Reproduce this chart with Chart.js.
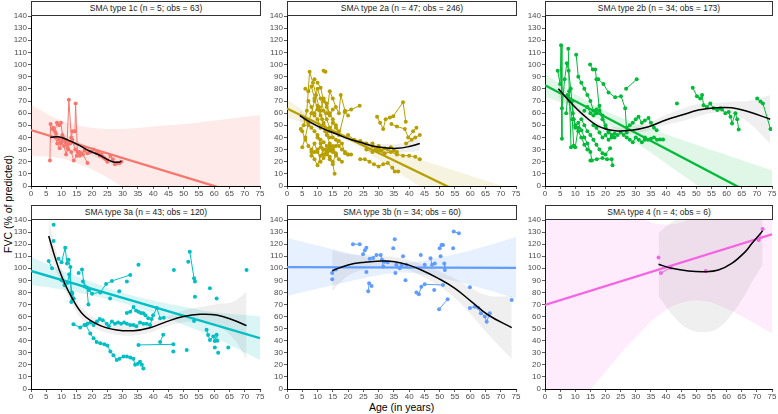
<!DOCTYPE html>
<html>
<head>
<meta charset="utf-8">
<script src="https://cdn.jsdelivr.net/npm/chart.js@4.4.0/dist/chart.umd.min.js"></script>
<style>
  body { margin: 0; background: #fff; width: 778px; height: 414px; position: relative; overflow: hidden;
         font-family: "Liberation Sans", Arial, sans-serif; }
  canvas { position: absolute; }
  .strip { position: absolute; box-sizing: border-box; border: 1px solid #333; background: #fff;
           font-size: 8.5px; line-height: 12px; text-align: center; color: #1a1a1a; white-space: nowrap; }
  .title { position: absolute; font-size: 10.5px; color: #000; white-space: nowrap; }
</style>
</head>
<body>
<div class="title" style="left:-50px;top:198px;width:116px;text-align:center;transform:rotate(-90deg);">FVC (% of predicted)</div>
<div class="title" style="left:369px;top:401px;">Age (in years)</div>
<script>
const bandAges = [0, 10, 20, 30, 40, 50, 60, 75];

// ---- SMA type 1c
const type1cPatients = [
  [[6.2,21],[6.4,51],[7.3,48],[8.2,43],[9,38],[9.8,35],[10.5,40],[11.3,36],[12.2,30],[13.2,28],[14,21],[15,25],[15.8,28],[17,26],[18.5,19]],
  [[7,47],[7.8,45],[8.5,52],[9.2,50],[9.8,52],[10.3,42],[11,38],[11.8,34],[12.4,71],[13.2,40],[13.6,45],[14.4,45],[14.6,68],[15.2,28],[16,25]],
  [[8,40],[8.6,35],[9.4,31],[10,36],[10.8,33],[11.5,26],[12,31],[12.8,35],[13.5,38],[14.5,30]],
  [[15.5,28],[16.5,27],[17.5,29],[18.5,27],[19.5,28],[20.5,30],[21.5,27],[22.5,25],[23.5,24],[24.5,22]],
  [[22,28],[23,26],[24,23],[25,20],[26,25],[26.8,22],[27.5,18],[28.2,19],[29,19],[29.6,20]]
];
const type1cLine = [46, -11.5];
const type1cUpper = [67, 54, 48, 47, 49, 51, 54, 58.5];
const type1cLower = [25, 22.6, 13.5, -1, -18, -36, -54, -81];
const type1cSmoothAges = [6.3, 9, 12, 15.7, 19, 22.3, 24.5, 26.7, 28.8, 29.6];
const type1cSmooth = [40, 40.5, 38, 33.7, 29, 25.5, 22.5, 20, 19.5, 20.5];
const type1cSmoothSe = [5, 3, 3, 3, 3, 3, 3, 3, 3.5, 4];

// ---- SMA type 2a
const type2aPatients = [
  [[4.5,47],[5.5,50],[6.5,62],[7.4,94],[8.5,85],[9.5,75],[10.5,65],[11.5,55],[12.5,45]],
  [[5,32],[6,40],[7,52],[8,60],[9,70],[10,80],[11,72],[12,62],[13,55],[14,48],[15,40]],
  [[6,80],[7,78],[8,82],[9,72],[10,63],[11,58],[12,50],[13,42],[14,35]],
  [[8,28],[9,22],[10,17],[11,25],[12,30],[13,28],[14,24],[15,20],[16,25]],
  [[9,88],[10,85],[11,81],[12,70],[13,65],[14,60],[15,55],[16,50],[17,45]],
  [[12,95],[12.6,94]],
  [[10,40],[11,35],[12,30],[13,27],[14,22],[15,18],[15.6,10]],
  [[13,60],[14,78],[15,72],[16,65],[17,60],[17.6,75],[19,62],[20,58]],
  [[14,45],[15,52],[16,48],[17,42],[18.9,61],[21,63],[23.8,66]],
  [[5,45],[6,38],[7,33],[8,30],[9,35],[10,28],[11,32],[12,26],[13,30],[14,33]],
  [[7,70],[8,65],[9,58],[10,55],[11,48],[12,52],[13,45],[14,40]],
  [[16,38],[17,33],[18,30],[19,28],[20,26],[21,26]],
  [[20,42],[22,38],[24,37],[26,35],[28,33],[30,32]],
  [[24,22],[25.5,22],[27,20],[28.5,18],[30,16],[31.5,18],[33,19],[34.5,15],[35.3,12],[36.4,12]],
  [[26,30],[28,28],[30,29],[32,27],[34,28],[36,26],[38,25],[40,25],[42,24],[43.5,22]],
  [[29.5,57],[30.5,52],[31.5,47],[32.3,55],[33.7,56.5],[34.8,57.5],[38,69],[38.9,53]],
  [[34.2,51],[36,49],[38.6,47],[39.7,40],[41.3,45],[42.4,48]],
  [[39,35],[40.8,38],[42,40],[43.5,42]],
  [[28,35],[29,30],[30,33],[31,29],[32,31],[33,30],[34,32],[35,29],[36,28]],
  [[6,55],[7,50],[8,48],[9,45],[10,42],[11,38],[12,36],[13,33],[14,31],[15,28],[16,26]],
  [[8,25],[9,28],[10,30],[11,20],[12,23],[13,26],[14,29],[15,33],[16,27],[17,22],[18,20]],
  [[9,60],[10,66],[11,62],[12,72],[13,68],[14,58],[15,63]],
  [[15,30],[16,33],[17,37],[18,35],[19,27],[20,26]]
];
const type2aLine = [63.8, -27.7];
const type2aUpper = [71.1, 55.0, 41.6, 32.9, 24.7, 16.6, 8.5, -3.5];
const type2aLower = [56.5, 48.2, 37.2, 21.5, 5.3, -11, -27.3, -51.9];
const type2aSmoothAges = [4.2, 8, 12, 16, 20, 24, 28, 32, 36, 40, 43.5];
const type2aSmooth = [58, 52, 47, 43, 39, 36, 33, 31.5, 31, 32.5, 35];
const type2aSmoothSe = [5, 3, 2.5, 2, 2, 2, 2.5, 3, 3.5, 4.5, 6];

// ---- SMA type 2b
const type2bPatients = [
  [[4.2,95],[5,84],[5.3,116],[5.6,39]],
  [[5.6,64],[6.5,88],[7.2,101],[7.8,95],[8.5,80],[9.2,60],[10,50],[11,45],[12,40],[13,34],[14,30]],
  [[7.7,113],[8,78],[8.6,32],[9.4,33]],
  [[10.3,108],[11,90],[12,85],[13,80],[14,75],[15,70],[16,62],[17,60]],
  [[9,70],[9.5,55],[10,48],[11,52],[12,46],[13,40],[14,35],[15,28],[15.5,21]],
  [[14.9,100],[15.8,96],[16.6,96],[17,88],[18,62],[19,58],[20,50],[21,45]],
  [[17.6,88],[19.3,84],[21,77],[23.2,73],[25.1,74],[26.5,64],[27,44]],
  [[15,21],[17.1,22],[19,23],[20.5,22],[22,22],[22.3,17]],
  [[26.8,80],[30.3,88]],
  [[12,55],[13,50],[14,45],[15,42],[16,38],[17,34],[18,30],[19,27],[20,26],[21.5,31]],
  [[13,62],[14,65],[15,60],[16,58],[17,63],[18,66],[19,55],[20,48],[21,44],[22,42],[23,40]],
  [[25,44],[26,42],[27,40],[28,38],[29,36],[30,40],[31,38],[32,36],[33,38]],
  [[27,48],[28,50],[29,52],[30,55],[30.9,57],[32,52],[33,54],[34.2,56],[35,52],[36,48],[36.9,46]],
  [[33,40],[34,38],[35,39],[36,40],[37,38],[38,38.3],[39,38.3]],
  [[43.6,68]],
  [[48.8,81],[50.2,74],[51.3,72],[51.9,75],[52.4,66.5],[53.5,65],[54.6,68],[55.7,64],[56.9,62.5],[58.5,63]],
  [[58,64],[59.6,60],[60.7,61],[61.3,57],[61.8,51.5],[62.9,60],[63.5,55],[64,46.5]],
  [[70.1,72],[71.2,69.5],[72,68],[74.5,47]],
  [[7,60],[7.5,75],[8,70],[9,55],[9.5,33],[10,32],[11,48]],
  [[16,50],[17,48],[18,44],[19,40],[20,42],[21,38],[22,40],[23,43],[24,42]]
];
const type2bLine = [83, -15.3];
const type2bUpper = [92.5, 75.8, 61.9, 51.6, 42.6, 34.0, 25.5, 12.9];
const type2bLower = [73.5, 64.0, 51.7, 35.8, 18.6, 1.0, -16.7, -43.5];
const type2bSmoothAges = [4.4, 8, 12, 17.6, 23.2, 28.7, 34.2, 39.7, 45.2, 50.7, 56.2, 61.7, 67.3, 74.4];
const type2bSmooth = [80, 70, 60, 49.3, 45.5, 46, 48.8, 54.2, 58.4, 62.5, 64.4, 64.4, 61.1, 55];
const type2bSmoothSe = [7, 4, 3, 3, 3, 3, 3, 4, 5, 5, 4, 5, 9, 20];

// ---- SMA type 3a
const type3aPatients = [
  [[5.8,106],[6.9,100]],
  [[7.4,136]],
  [[7.4,122.6]],
  [[9,108],[10,105],[11.2,117],[11.8,104],[12.3,107],[12.9,101],[13.2,72],[13.5,79]],
  [[10,90],[11,86],[12,88],[12.5,95],[13.4,80],[14,75]],
  [[15.6,96]],
  [[16.7,99],[17.5,85],[18.3,84],[18.8,70]],
  [[17,89],[19,82],[20,79],[22.7,80],[24.6,87],[26.5,89.5],[32.5,94.5]],
  [[25.9,75]], [[28.9,81]], [[31.4,89]], [[35.2,103]],
  [[18,53],[19.4,46],[20.5,42],[21.5,39],[22.7,38],[24,37],[25,36],[26,31],[27,28],[28.1,24],[29,25],[30.3,27],[31.4,27],[32.5,26],[33.5,25],[34.1,20],[35,21],[35.7,22.6],[36.3,20],[36.8,17]],
  [[13.9,53.6],[16.1,51],[17.5,53],[18.5,54],[19.5,55],[20.5,53],[21.6,56],[22.5,58],[23.5,57],[24.8,54],[25.5,52],[26.5,56],[27.5,54],[28.5,55],[29.5,54],[30.5,55],[31.4,54],[32.5,53],[33.6,53],[34.5,52],[35.7,55],[36.8,54],[37.9,54],[39,53],[40,61],[41.2,67],[42.3,58.6],[43.5,59]],
  [[31.4,63],[32.5,64],[33.6,68],[34.4,65],[35.2,64],[36,63],[36.8,62.7],[37.5,61],[38.4,58.6],[39.5,58]],
  [[35.2,36.5],[46.6,37]],
  [[42.3,39],[43.3,45]],
  [[46.6,31]], [[46.8,98.6]], [[51,32.3]], [[51.5,105.5]],
  [[52,113.8],[53.4,91.7],[53.7,89]],
  [[53.7,76.5]], [[53.4,56.4]],
  [[57.5,49],[58,44.8],[58.6,40.6],[59.7,43.4],[60.2,39.8],[60.8,45],[61,40]],
  [[58.6,83.4]], [[60.8,75]], [[60.2,34.3]], [[61.3,30]], [[64.6,34.3]], [[70.6,98.6]]
];
const type3aLine = [97.8, 42.1];
const type3aUpper = [109.5, 98.4, 88.4, 79.7, 73.3, 68.2, 63.7, 60.1];
const type3aLower = [86.1, 82.4, 77.4, 71.3, 62.9, 53.2, 42.7, 24.1];
const type3aSmoothAges = [5.8, 8, 10.1, 12.9, 17.2, 22.7, 28.1, 33.6, 39, 44.4, 49.9, 55.3, 60.8, 66.2, 70.6];
const type3aSmooth = [126.8, 108, 93, 78, 61.3, 52.5, 48.9, 48.3, 50.8, 55.8, 60, 61.9, 61.3, 57.2, 52.5];
const type3aSmoothSe = [14, 9, 6, 5, 5, 4, 4, 4, 4, 4, 5, 6, 9, 15, 28];

// ---- SMA type 3b
const type3bPatients = [
  [[14.8,96],[16,99]], [[14.8,91]], [[21.6,120],[23.8,120]],
  [[24.9,111.6],[25.5,115],[26,117]], [[26,97]],
  [[26.6,81],[26.9,87.6],[27.7,85.4]],
  [[27.1,108],[28.2,108.5],[29.3,111],[30.7,111],[31.1,107],[31.5,101.4]],
  [[32,105.5],[33,105]], [[34.8,116.6]], [[35.3,124]], [[35.5,96]],
  [[35.8,103],[36.9,100],[37.5,102]], [[38,110]], [[38.8,90]], [[39.1,103]],
  [[42.4,80],[43.2,78.5],[44,84.8]], [[43.8,111]], [[45.1,86.7],[51.1,86.2]],
  [[45.1,103]], [[47,108.3],[47.5,103]], [[48.2,82]], [[48.4,104]],
  [[50,116.6],[50.6,119.3],[51.1,119.3]], [[50.3,110]], [[51.5,104],[51.7,98.6]],
  [[49.8,66],[52.6,74.3]], [[54.4,116.6]], [[54.6,130.4],[56.3,129]], [[59.9,84.3]],
  [[59.9,67],[61.5,68.2],[62.6,67.4],[63.5,62.7],[64.8,60],[65.4,55.8],[66.4,62.7]],
  [[73.6,73.8]]
];
const type3bLine = [101, 100.4];
const type3bUpper = [125, 118.8, 112.7, 107.1, 104.8, 109.1, 114.8, 126];
const type3bLower = [77, 83, 88.9, 94.3, 96.4, 92.1, 86.2, 75];
const type3bSmoothAges = [14.8, 20, 25.5, 30.9, 35.3, 39.7, 44, 49.5, 55, 60.4, 65.9, 73.6];
const type3bSmooth = [98, 102.8, 105, 106, 105.5, 102.8, 98.6, 91.7, 83.4, 72.4, 61.3, 50.8];
const type3bSmoothSe = [17, 9, 6, 4, 4, 4, 5, 6, 8, 11, 16, 26];

// ---- SMA type 4
const type4Patients = [
  [[37.5,109]], [[38.3,96],[41.5,100.5]], [[53.1,97.8]], [[70.6,123.5],[71.9,132.6]]
];
const type4Line = [69.6, 128.2];
const type4Upper = [186.6, 171, 155.9, 143, 136.1, 144, 166.5, 210];
const type4Lower = [-47, -16.2, 14.5, 43, 65.5, 73.4, 66.5, 46.2];
const type4SmoothAges = [37.5, 41.9, 47.4, 52.9, 57.3, 61.7, 66.2, 68.4, 71.9];
const type4Smooth = [103.3, 100, 97.8, 97.2, 98.6, 104, 113.8, 120.7, 131];
const type4SmoothSe = [26, 38, 48, 50, 48, 42, 35, 32, 28];

const panels = [
  { title: 'SMA type 1c (n = 5; obs = 63)', color: '#F8766D', band: 'rgba(248,118,109,0.15)',
    patients: type1cPatients, line: type1cLine, upper: type1cUpper, lower: type1cLower,
    sAges: type1cSmoothAges, s: type1cSmooth, se: type1cSmoothSe, left: 31, top: 16, w: 229, h: 170 },
  { title: 'SMA type 2a (n = 47; obs = 246)', color: '#B79F00', band: 'rgba(183,159,0,0.12)',
    patients: type2aPatients, line: type2aLine, upper: type2aUpper, lower: type2aLower,
    sAges: type2aSmoothAges, s: type2aSmooth, se: type2aSmoothSe, left: 287, top: 16, w: 229, h: 170 },
  { title: 'SMA type 2b (n = 34; obs = 173)', color: '#00BA38', band: 'rgba(0,186,56,0.12)',
    patients: type2bPatients, line: type2bLine, upper: type2bUpper, lower: type2bLower,
    sAges: type2bSmoothAges, s: type2bSmooth, se: type2bSmoothSe, left: 545, top: 16, w: 227, h: 170 },
  { title: 'SMA type 3a (n = 43; obs = 120)', color: '#00BFC4', band: 'rgba(0,191,196,0.15)',
    patients: type3aPatients, line: type3aLine, upper: type3aUpper, lower: type3aLower,
    sAges: type3aSmoothAges, s: type3aSmooth, se: type3aSmoothSe, left: 31, top: 220, w: 229, h: 169 },
  { title: 'SMA type 3b (n = 34; obs = 60)', color: '#619CFF', band: 'rgba(97,156,255,0.15)',
    patients: type3bPatients, line: type3bLine, upper: type3bUpper, lower: type3bLower,
    sAges: type3bSmoothAges, s: type3bSmooth, se: type3bSmoothSe, left: 287, top: 220, w: 229, h: 169 },
  { title: 'SMA type 4 (n = 4; obs = 6)', color: '#F564E3', band: 'rgba(245,100,227,0.13)',
    patients: type4Patients, line: type4Line, upper: type4Upper, lower: type4Lower,
    sAges: type4SmoothAges, s: type4Smooth, se: type4SmoothSe, left: 545, top: 220, w: 227, h: 169 }
];

const AXIS_W = 31, AXIS_H = 16, PAD = 8;
const tickFont = { family: '"Liberation Sans", Arial, sans-serif', size: 8 };

function xy(xs, ys) { return xs.map((x, i) => ({ x: x, y: ys[i] })); }

panels.forEach(p => {
  // strip header
  const strip = document.createElement('div');
  strip.className = 'strip';
  strip.style.left = p.left + 'px';
  strip.style.top = (p.top - 15) + 'px';
  strip.style.width = (p.w + 1) + 'px';
  strip.style.height = '15px';
  strip.textContent = p.title;
  document.body.appendChild(strip);

  const canvas = document.createElement('canvas');
  canvas.width = AXIS_W + p.w + PAD;
  canvas.height = PAD + p.h + AXIS_H;
  canvas.style.left = (p.left - AXIS_W) + 'px';
  canvas.style.top = (p.top - PAD) + 'px';
  document.body.appendChild(canvas);

  const datasets = [];
  // linear fit band
  datasets.push({ data: xy(bandAges, p.upper), fill: '+1', backgroundColor: p.band,
                  borderWidth: 0, pointRadius: 0, tension: 0.4, order: 5 });
  datasets.push({ data: xy(bandAges, p.lower), fill: false,
                  borderWidth: 0, pointRadius: 0, tension: 0.4, order: 5 });
  // smoother band
  datasets.push({ data: xy(p.sAges, p.s.map((v, i) => v + p.se[i])), fill: '+1',
                  backgroundColor: 'rgba(120,120,120,0.12)', borderWidth: 0, pointRadius: 0, tension: 0.4, order: 4 });
  datasets.push({ data: xy(p.sAges, p.s.map((v, i) => v - p.se[i])), fill: false,
                  borderWidth: 0, pointRadius: 0, tension: 0.4, order: 4 });
  // patients
  p.patients.forEach(pts => {
    datasets.push({ data: pts.map(a => ({ x: a[0], y: a[1] })), borderColor: p.color, backgroundColor: p.color,
                    borderWidth: 1, pointRadius: 2, pointBorderWidth: 0, fill: false, order: 3 });
  });
  // linear fit
  datasets.push({ data: xy([0, 75], p.line), borderColor: p.color, borderWidth: 2.3,
                  pointRadius: 0, fill: false, clip: 0, order: 2 });
  // smoother
  datasets.push({ data: xy(p.sAges, p.s), borderColor: '#000', borderWidth: 1.5,
                  pointRadius: 0, fill: false, tension: 0.4, order: 1 });

  new Chart(canvas, {
    type: 'line',
    data: { datasets: datasets },
    options: {
      responsive: false,
      animation: false,
      events: [],
      layout: { padding: { top: PAD, right: PAD, left: 0, bottom: 0 } },
      plugins: { legend: { display: false }, tooltip: { enabled: false } },
      scales: {
        x: {
          type: 'linear', min: 0, max: 75,
          ticks: { stepSize: 5, autoSkip: false, maxRotation: 0, padding: 0, color: '#4d4d4d', font: tickFont },
          grid: { drawOnChartArea: false, drawTicks: true, tickLength: 3, color: '#333', lineWidth: 0.8 },
          border: { display: true, color: '#000', width: 1 },
          afterFit: s => { s.height = AXIS_H; }
        },
        y: {
          min: 0, max: 140,
          ticks: { stepSize: 10, autoSkip: false, padding: 1, color: '#4d4d4d', font: tickFont },
          grid: { drawOnChartArea: false, drawTicks: true, tickLength: 3, color: '#333', lineWidth: 0.8 },
          border: { display: true, color: '#000', width: 1 },
          afterFit: s => { s.width = AXIS_W; }
        }
      }
    }
  });
});
</script>
</body>
</html>
